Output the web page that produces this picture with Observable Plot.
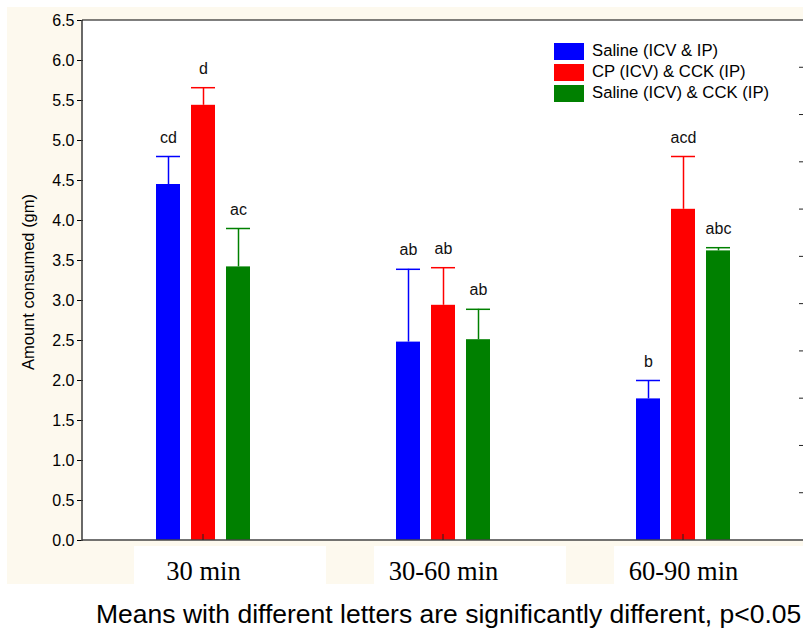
<!DOCTYPE html>
<html><head><meta charset="utf-8">
<script src="https://cdn.jsdelivr.net/npm/d3@7"></script>
<script src="https://cdn.jsdelivr.net/npm/@observablehq/plot@0.6"></script>
<style>
body{margin:0;background:#fff;}
#wrap{position:relative;width:803px;height:631px;overflow:hidden;}
#chart{position:absolute;left:0;top:0;}
#caption{position:absolute;left:96px;top:599px;font-family:Arial,"Liberation Sans",sans-serif;font-size:26.5px;line-height:30px;color:#000;white-space:nowrap;}
</style></head><body>
<div id="wrap"><div id="chart"></div><div id="caption">Means with different letters are significantly different, p&lt;0.05</div></div>
<script>
const groups = ["30 min", "30-60 min", "60-90 min"];
const series = ["Saline (ICV & IP)", "CP (ICV) & CCK (IP)", "Saline (ICV) & CCK (IP)"];
const colors = ["#0000ff", "#ff0000", "#008000"];
const salineMeans = [4.45, 2.48, 1.77];
const salineErr   = [4.80, 3.39, 2.00];
const cpMeans     = [5.44, 2.94, 4.14];
const cpErr       = [5.66, 3.41, 4.80];
const cckMeans    = [3.42, 2.51, 3.62];
const cckErr      = [3.90, 2.89, 3.66];
const salineLetters = ["cd", "ab", "b"];
const cpLetters     = ["d", "ab", "acd"];
const cckLetters    = ["ac", "ab", "abc"];
const yTicks = [0, 0.5, 1, 1.5, 2, 2.5, 3, 3.5, 4, 4.5, 5, 5.5, 6, 6.5];
const rightTicks = [1, 2, 3, 4, 5, 6, 7, 8, 9, 10];
const rightMax = 11;
const yLabel = "Amount consumed (gm)";

const seriesMeans = [salineMeans, cpMeans, cckMeans];
const seriesErr = [salineErr, cpErr, cckErr];
const seriesLetters = [salineLetters, cpLetters, cckLetters];
const rows = [];
groups.forEach((g, gi) => series.forEach((s, si) => rows.push({
  group: g, series: s, mean: seriesMeans[si][gi], err: seriesErr[si][gi], letter: seriesLetters[si][gi]
})));

const W = 803, H = 592, ML = 82, MR = 0, MT = 20, MB = 52;
const plot = Plot.plot({
  width: W, height: H,
  marginLeft: ML, marginRight: MR, marginTop: MT, marginBottom: MB,
  style: {background: "transparent", fontFamily: "Arial, 'Liberation Sans', sans-serif", fontSize: "16px", color: "#000"},
  fx: {domain: groups, padding: 0, label: null},
  x: {domain: series, paddingInner: 0.306, paddingOuter: 1.99, axis: null},
  y: {domain: [0, 6.5], ticks: yTicks, tickFormat: d => d.toFixed(1), tickSize: 6, tickPadding: 3, label: null},
  color: {domain: series, range: colors},
  marks: [
    Plot.barY(rows, {fx: "group", x: "series", y: "mean", fill: "series"}),
    Plot.ruleX(rows, {fx: "group", x: "series", y1: "mean", y2: "err", stroke: "series", strokeWidth: 1.5}),
    Plot.tickY(rows, {fx: "group", x: "series", y: "err", stroke: "series", strokeWidth: 1.5}),
    Plot.text(rows, {fx: "group", x: "series", y: "err", text: "letter", dy: -19, fontSize: 16, fill: "#111"}),
    Plot.axisFx({anchor: "bottom", tickSize: 0, tickPadding: 21, fontSize: 26.5, fontFamily: "'Liberation Serif', 'Times New Roman', serif", label: null})
  ]
});
document.getElementById("chart").appendChild(plot);

// decorations
const svg = d3.select(plot);
const fx = plot.scale("fx"), y = plot.scale("y"), color = plot.scale("color");
const bw = fx.bandwidth;
const y0 = y.apply(0), yTop = y.apply(6.5);
const xL = ML, xR = W - MR;
const bg = svg.insert("g", ":first-child");
bg.append("rect").attr("x", 7).attr("y", 7).attr("width", W - 7).attr("height", y0 + 44 - 7).attr("fill", "#fdf9ee");
bg.append("rect").attr("x", xL).attr("y", yTop).attr("width", xR - xL).attr("height", y0 - yTop).attr("fill", "#fff");
groups.forEach(g => {
  const a = fx.apply(g);
  bg.append("rect").attr("x", a + 51).attr("y", y0 + 6).attr("width", Math.min(bw - 48, xR - a - 51)).attr("height", 38).attr("fill", "#fff");
});
const fg = svg.append("g");
fg.append("line").attr("x1", xL).attr("x2", xR).attr("y1", yTop).attr("y2", yTop).attr("stroke", "#000").attr("stroke-width", 1.2);
fg.append("line").attr("x1", xL).attr("x2", xL).attr("y1", yTop).attr("y2", y0 + 1).attr("stroke", "#444").attr("stroke-width", 1.6);
fg.append("line").attr("x1", xL).attr("x2", xR).attr("y1", y0).attr("y2", y0).attr("stroke", "#444").attr("stroke-width", 1.6);
groups.forEach(g => {
  const c = fx.apply(g) + bw / 2;
  fg.append("line").attr("x1", c).attr("x2", c).attr("y1", y0 - 6).attr("y2", y0).attr("stroke", "#222").attr("stroke-width", 1);
});
rightTicks.forEach(v => {
  const py = y0 + (yTop - y0) * v / rightMax;
  fg.append("line").attr("x1", xR - 4).attr("x2", xR).attr("y1", py).attr("y2", py).attr("stroke", "#222").attr("stroke-width", 1);
});
fg.append("text").attr("transform", `translate(30,${(y0 + yTop) / 2 + 2}) rotate(-90)`).attr("text-anchor", "middle")
  .attr("dominant-baseline", "middle").attr("font-size", 16.5).attr("fill", "#000").text(yLabel);
// legend
const lg = fg.append("g").attr("transform", "translate(554,43)");
series.forEach((s, i) => {
  const r = lg.append("g").attr("transform", `translate(0,${i * 21})`);
  r.append("rect").attr("width", 30).attr("height", 17).attr("fill", color.apply(s));
  r.append("text").attr("x", 38).attr("y", 8.5).attr("text-anchor", "start").attr("dominant-baseline", "middle").attr("font-size", 16.7).attr("fill", "#000").text(s);
});
</script>
</body></html>
